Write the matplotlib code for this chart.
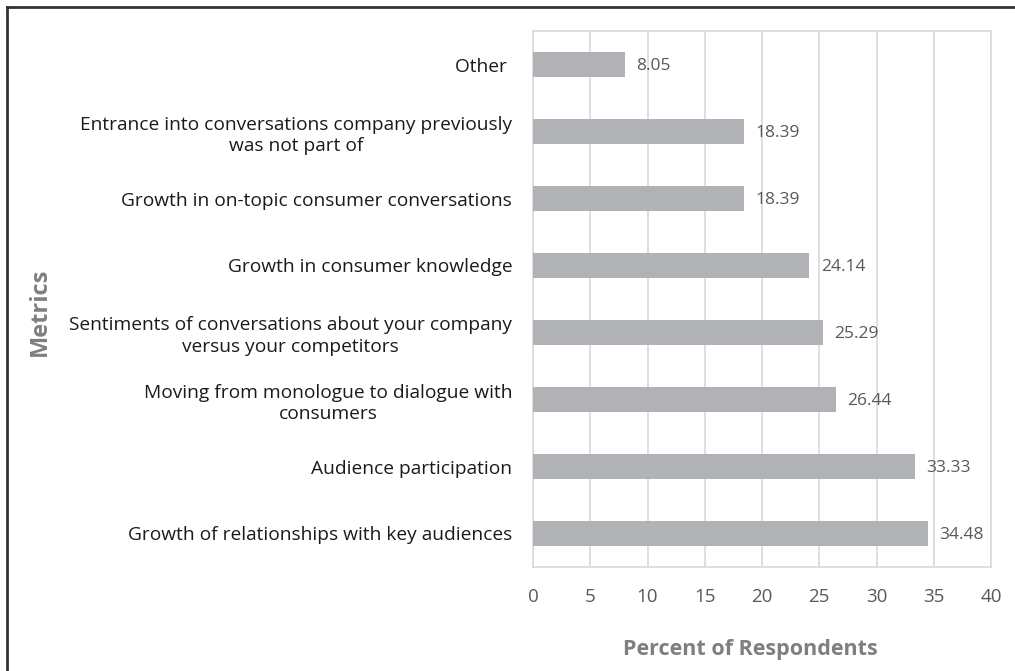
import matplotlib.pyplot as plt
from matplotlib.lines import Line2D

categories = [
    "Growth of relationships with key audiences",
    "Audience participation",
    "Moving from monologue to dialogue with\nconsumers",
    "Sentiments of conversations about your company\nversus your competitors",
    "Growth in consumer knowledge",
    "Growth in on-topic consumer conversations",
    "Entrance into conversations company previously\nwas not part of",
    "Other ",
]
values = [34.48, 33.33, 26.44, 25.29, 24.14, 18.39, 18.39, 8.05]
xticks = [0, 5, 10, 15, 20, 25, 30, 35, 40]

plt.rcParams['font.family'] = ['Open Sans', 'DejaVu Sans']

fig = plt.figure(figsize=(10.15, 6.71), dpi=100)
ax = fig.add_axes([533 / 1015, 1 - 567 / 671, (991 - 533) / 1015, (567 - 31) / 671])

ypos = list(range(len(categories)))
ax.barh(ypos, values, height=0.36, color='#b1b2b5', zorder=3)
for y, v in zip(ypos, values):
    ax.text(v + 1.0, y - 0.02, f"{v:.2f}", va='center', ha='left', fontsize=12.5, color='#595959')

ax.set_xlim(0, 40)
ax.set_ylim(-0.5, 7.5)
ax.set_xticks(xticks)
ax.set_xticklabels([str(t) for t in xticks], fontsize=13.5, color='#595959')
ax.set_yticks(ypos)
ax.set_yticklabels(categories, fontsize=13.8, color='#1a1a1a', multialignment='center',
                   linespacing=1.25)
ax.tick_params(axis='both', length=0)
ax.tick_params(axis='x', pad=15)
ax.tick_params(axis='y', pad=15)
ax.grid(axis='x', color='#d9d9d9', linewidth=1.2, zorder=0)
for s in ax.spines.values():
    s.set_color('#d9d9d9')
    s.set_linewidth(1.2)

ax.set_xlabel("Percent of Respondents", fontsize=15.5, fontweight='bold', color='#7f7f7f')
ax.xaxis.set_label_coords((750 - 533) / (991 - 533), -(649 - 567) / (567 - 31))
ax.xaxis.label.set_va('center')
fig.text(40 / 1015, 1 - 312 / 671, "Metrics", rotation=90, fontsize=17, fontweight='bold',
         color='#7f7f7f', ha='center', va='center')

# outer frame (top and left edges visible)
fig.add_artist(Line2D([7 / 1015, 1], [1 - 7 / 671, 1 - 7 / 671], transform=fig.transFigure, color='#333333', linewidth=2))
fig.add_artist(Line2D([7 / 1015, 7 / 1015], [0, 1 - 7 / 671], transform=fig.transFigure, color='#333333', linewidth=2))

fig.savefig("out.png", dpi=100)
